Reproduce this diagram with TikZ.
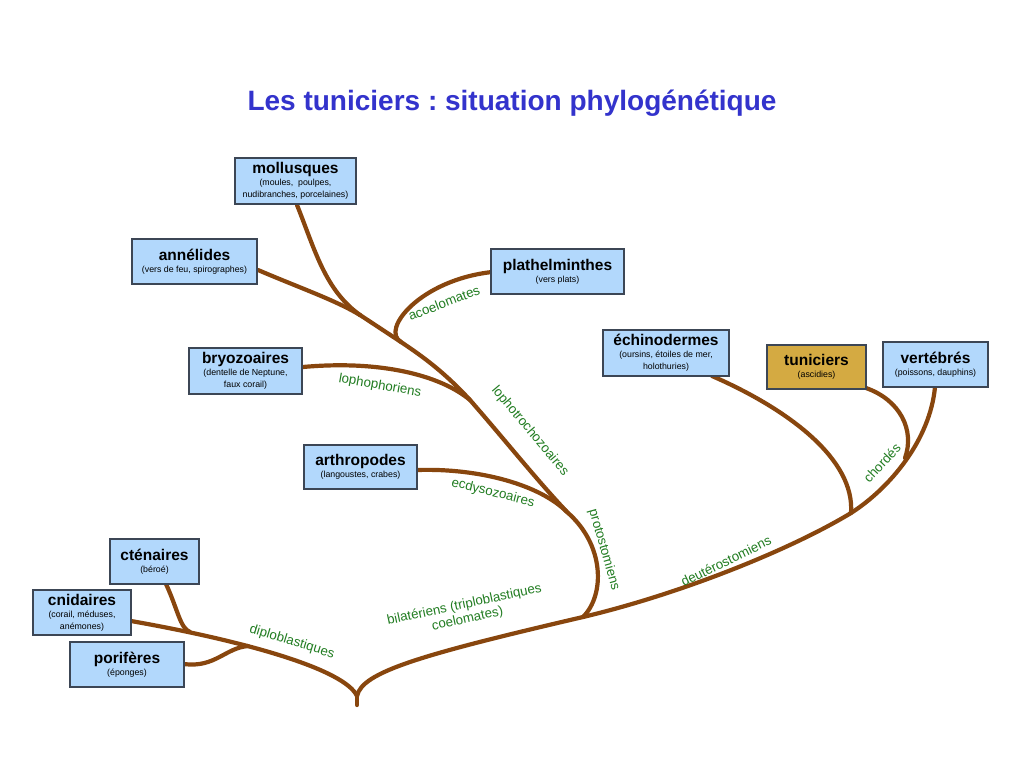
\documentclass[tikz,border=0pt]{standalone}
\usepackage{fontspec}
\setmainfont{Liberation Sans}
\frenchspacing
\definecolor{boxblue}{RGB}{178,216,252}
\definecolor{boxgold}{RGB}{212,170,66}
\definecolor{boxline}{RGB}{60,70,85}
\definecolor{brbrown}{RGB}{136,70,14}
\definecolor{lblgreen}{RGB}{34,125,34}
\definecolor{ttlblue}{RGB}{51,51,204}
\newcommand{\bt}[1]{{\fontsize{15.5}{17}\selectfont\bfseries #1}}
\newcommand{\bs}[1]{{\fontsize{8.8}{9.8}\selectfont #1}}
\tikzset{
  taxbox/.style={draw=boxline, line width=1.1pt, fill=boxblue, align=center, inner sep=1pt},
  branch/.style={draw=brbrown, line width=4.2pt, line cap=round},
  clade/.style={text=lblgreen, font=\fontsize{13.3}{14.5}\selectfont, inner sep=0pt}
}
\begin{document}
\begin{tikzpicture}[x=1pt,y=-1pt]
\useasboundingbox[fill=white] (0,0) rectangle (1024,768);
\node[font=\fontsize{28}{32}\selectfont\bfseries, text=ttlblue] (title) at (512,103) {Les tuniciers : situation phylogénétique};

% junctions
\coordinate (root) at (357,705);
\coordinate (cusp) at (357,696);
\coordinate (jbil) at (583,617);
\coordinate (jdeu) at (851,513);
\coordinate (jchor) at (905,458);
\coordinate (jecd) at (567,512);
\coordinate (jlopho) at (470,400);
\coordinate (jacoel) at (401,342);
\coordinate (jann) at (360,315);
\coordinate (jcten) at (190,632);
\coordinate (jdip) at (248,646);

% branches (drawn before boxes)
\draw[branch] (cusp) -- (root);
\draw[branch] (131,621) .. controls (250,642) and (345,670) .. (cusp);
\draw[branch] (cusp) .. controls (362,672) and (420,655) .. (jbil)
  .. controls (680,594) and (790,550) .. (jdeu)
  .. controls (890,488) and (930,440) .. (935,387);
\draw[branch] (jbil) .. controls (605,595) and (605,545) .. (jecd)
  .. controls (535,478) and (505,440) .. (jlopho)
  .. controls (445,373) and (425,358) .. (jacoel) -- (jann);
\draw[branch] (297,205) .. controls (315,250) and (325,290) .. (jann);
\draw[branch] (258,270) .. controls (300,288) and (335,300) .. (jann);
\draw[branch] (492,272) .. controls (420,280) and (380,330) .. (jacoel);
\draw[branch] (303,367) .. controls (380,360) and (440,375) .. (jlopho);
\draw[branch] (417,470) .. controls (480,468) and (540,485) .. (jecd);
\draw[branch] (712,376) .. controls (790,410) and (855,460) .. (jdeu);
\draw[branch] (866,388) .. controls (900,400) and (915,430) .. (jchor);
\draw[branch] (166,584) .. controls (178,610) and (180,628) .. (jcten);
\draw[branch] (184,664) .. controls (215,668) and (225,648) .. (jdip);

% boxes
\node[taxbox, minimum width=121, minimum height=46] (moll) at (295.5,181) {\bt{mollusques}\\\bs{(moules,\ \ poulpes,}\\\bs{nudibranches, porcelaines)}};
\node[taxbox, minimum width=125, minimum height=45] (ann) at (194.5,261.5) {\bt{annélides}\\\bs{(vers de feu, spirographes)}};
\node[taxbox, minimum width=133, minimum height=45] (plat) at (557.5,271.5) {\bt{plathelminthes}\\\bs{(vers plats)}};
\node[taxbox, minimum width=113, minimum height=46] (bryo) at (245.5,371) {\bt{bryozoaires}\\\bs{(dentelle de Neptune,}\\\bs{faux corail)}};
\node[taxbox, minimum width=113, minimum height=44] (arth) at (360.5,467) {\bt{arthropodes}\\\bs{(langoustes, crabes)}};
\node[taxbox, minimum width=126, minimum height=46] (echi) at (666,353) {\bt{échinodermes}\\\bs{(oursins, étoiles de mer,}\\\bs{holothuries)}};
\node[taxbox, fill=boxgold, minimum width=99, minimum height=44] (tun) at (816.5,367) {\bt{tuniciers}\\\bs{(ascidies)}};
\node[taxbox, minimum width=105, minimum height=45] (vert) at (935.5,364.5) {\bt{vertébrés}\\\bs{(poissons, dauphins)}};
\node[taxbox, minimum width=89, minimum height=45] (cten) at (154.5,561.5) {\bt{cténaires}\\\bs{(béroé)}};
\node[taxbox, minimum width=98, minimum height=45] (cnid) at (82,612.5) {\bt{cnidaires}\\\bs{(corail, méduses,}\\\bs{anémones)}};
\node[taxbox, minimum width=114, minimum height=45] (pori) at (127,664.5) {\bt{porifères}\\\bs{(éponges)}};

% clade labels
\node[clade, rotate=21] (lacoel) at (444,303) {acoelomates};
\node[clade, rotate=-10] (llopho) at (380,386) {lophophoriens};
\node[clade, rotate=-50] (llt) at (530,431) {lophotrochozoaires};
\node[clade, rotate=-14] (lecd) at (493,493) {ecdysozoaires};
\node[clade, rotate=-74] (lproto) at (604,550) {protostomiens};
\node[clade, rotate=12, align=center] (lbil) at (466,612) {bilatériens (triploblastiques\\coelomates)};
\node[clade, rotate=-17] (ldip) at (292,642) {diploblastiques};
\node[clade, rotate=26] (ldeu) at (726,561) {deutérostomiens};
\node[clade, rotate=47] (lchor) at (882,463) {chordés};
\end{tikzpicture}
\end{document}
